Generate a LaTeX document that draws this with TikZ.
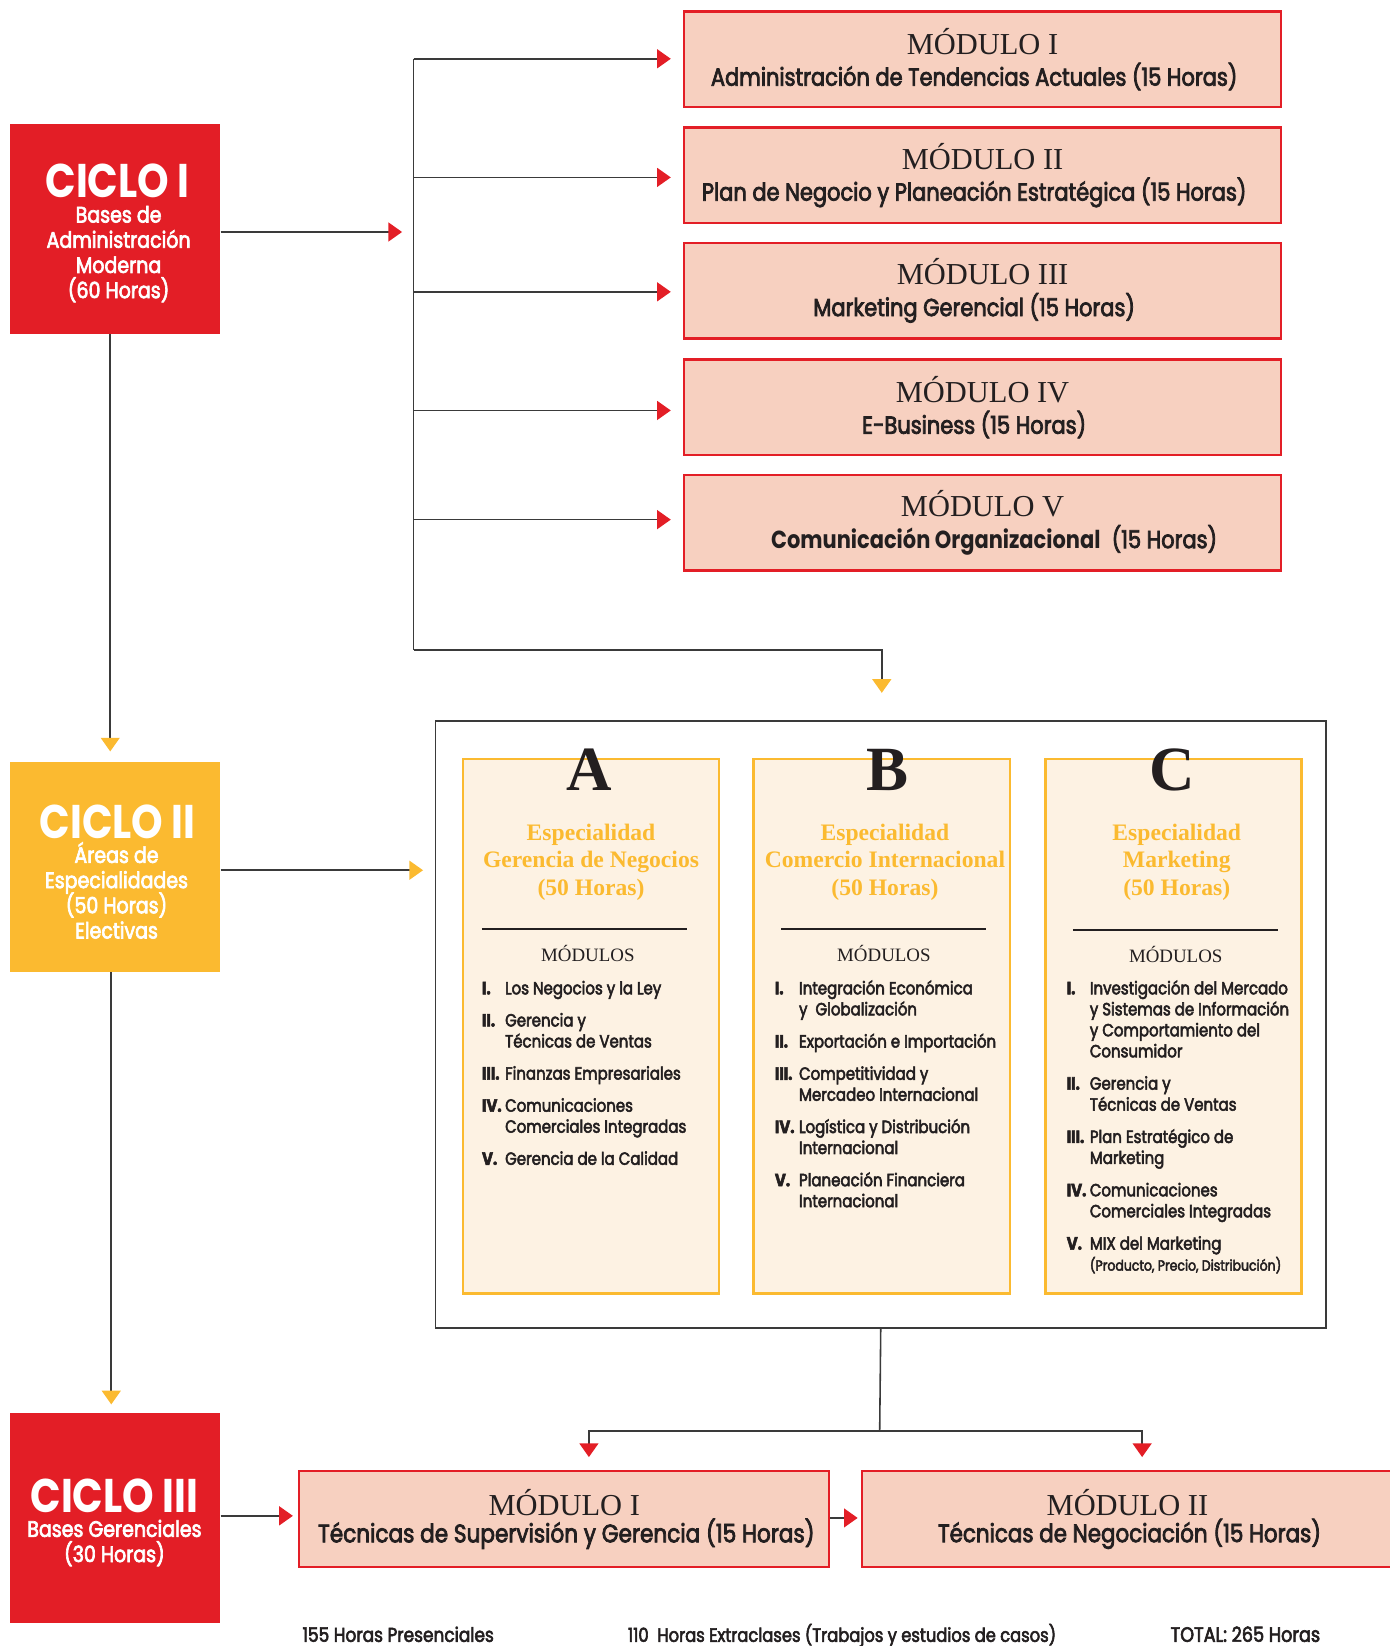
\documentclass[tikz,border=0pt]{standalone}
\usepackage{fontspec}
\setmainfont{Liberation Serif}
\newfontfamily\futm{Poppins}[FakeStretch=0.85,FakeBold=3]
\newfontfamily\fut{Poppins}[FakeStretch=0.85]
\newcommand\csm[1]{\smash{#1}}
\usetikzlibrary{arrows.meta}
\definecolor{cred}{HTML}{E31E26}
\definecolor{cpeach}{HTML}{F7D0C0}
\definecolor{cyel}{HTML}{FBBA30}
\definecolor{ccream}{HTML}{FDF2E3}
\definecolor{cline}{HTML}{3A3A3A}
\definecolor{ctext}{HTML}{231F20}
\begin{document}
\begin{tikzpicture}[x=1pt,y=-1pt,
  ln/.style={draw=cline,line width=1.5pt},
  rtip/.style={ln,-{Triangle[length=13pt,width=18pt,color=cred]}},
  ytip/.style={ln,-{Triangle[length=13pt,width=18pt,color=cyel]}},
  ciclo/.style={minimum width=200pt,minimum height=200pt,inner sep=0pt},
  ctitle/.style={anchor=base,inner sep=0pt,text=white,font=\fut\bfseries\fontsize{45}{40}\selectfont},
  csub/.style={anchor=north,inner sep=0pt,text=white,font=\futm\fontsize{21.3}{24}\selectfont},
  modbox/.style={draw=cred,line width=2pt,fill=cpeach,minimum height=91pt,align=center,inner sep=0pt,text=ctext},
  colbox/.style={draw=cyel,line width=2.5pt,fill=ccream,minimum width=244pt,minimum height=509pt,inner sep=0pt},
  letter/.style={anchor=base,inner sep=0pt,text=ctext,font=\bfseries\fontsize{60}{60}\selectfont},
  spec/.style={anchor=north,inner sep=0pt,text=cyel,align=center,font=\bfseries\fontsize{22.5}{26}\selectfont},
  mods/.style={anchor=base,inner sep=0pt,text=ctext,font=\fontsize{18}{20}\selectfont},
  items/.style={anchor=north west,inner sep=0pt,text=ctext,font=\futm\fontsize{16.8}{20}\selectfont},
  foot/.style={anchor=base west,inner sep=0pt,text=ctext,font=\futm\fontsize{19}{20}\selectfont}
]
\useasboundingbox (0,0) rectangle (1324,1568);

% ---------- CICLO boxes
\node[ciclo,fill=cred] (c1) at (110,218) {};
\node[ciclo,fill=cyel] (c2) at (110,826) {};
\node[ciclo,fill=cred] (c3) at (110,1446) {};
\node[ctitle] (c1t) at (112,188.5) {CICLO I};
\node[csub] (c1s) at (113,195) {\begin{tabular}{@{}c@{}}\csm{Bases de}\\ \csm{Administración}\\ \csm{Moderna}\\ \csm{(60 Horas)}\end{tabular}};
\node[ctitle] (c2t) at (112,799) {CICLO II};
\node[csub] (c2s) at (111,805) {\begin{tabular}{@{}c@{}}\csm{Áreas de}\\ \csm{Especialidades}\\ \csm{(50 Horas)}\\ \csm{Electivas}\end{tabular}};
\node[ctitle] (c3t) at (109,1441) {CICLO III};
\node[csub] (c3s) at (109,1447) {\begin{tabular}{@{}c@{}}\csm{Bases Gerenciales}\\ \csm{(30 Horas)}\end{tabular}};

% ---------- Modules of cycle I
\node[modbox,minimum width=568pt] (m1) at (936,56.5) {{\fontsize{29}{30}\selectfont MÓDULO I}\\[6.5pt]{\futm\fontsize{23.5}{24}\selectfont Administración de Tendencias Actuales (15 Horas)\hspace*{16pt}}};
\node[modbox,minimum width=568pt] (m2) at (936,167) {{\fontsize{29}{30}\selectfont MÓDULO II}\\[6.5pt]{\futm\fontsize{23.5}{24}\selectfont Plan de Negocio y Planeación Estratégica (15 Horas)\hspace*{16pt}}};
\node[modbox,minimum width=568pt] (m3) at (936,277) {{\fontsize{29}{30}\selectfont MÓDULO III}\\[6.5pt]{\futm\fontsize{23.5}{24}\selectfont Marketing Gerencial (15 Horas)\hspace*{16pt}}};
\node[modbox,minimum width=568pt] (m4) at (936,388) {{\fontsize{29}{30}\selectfont MÓDULO IV}\\[6.5pt]{\futm\fontsize{23.5}{24}\selectfont E-Business (15 Horas)\hspace*{16pt}}};
\node[modbox,minimum width=568pt] (m5) at (936,498) {{\fontsize{29}{30}\selectfont MÓDULO V}\\[6.5pt]{\futm\fontsize{23.5}{24}\selectfont \hspace*{22pt}{\fut\bfseries Comunicación Organizacional}\ \ (15 Horas)}};

% ---------- trunk and branches
\coordinate (t0) at (394,56);
\coordinate (t1) at (394,619);
\coordinate (c1in) at (383,221);
\coordinate (ptop) at (840,660);
\draw[rtip] (c1.east |- c1in) -- (c1in);
\draw[ln] (t0) -- (t1);
\draw[rtip,shorten >=12pt] (t0) -- (m1.west |- t0);
\draw[rtip,shorten >=12pt] (394,169) -- (m2.west |- 0,169);
\draw[rtip,shorten >=12pt] (394,278) -- (m3.west |- 0,278);
\draw[rtip,shorten >=12pt] (394,391) -- (m4.west |- 0,391);
\draw[rtip,shorten >=12pt] (394,495) -- (m5.west |- 0,495);
\draw[ytip] (t1) -| (ptop);

% ---------- specialities panel
\node[draw=cline,line width=1.5pt,fill=white,minimum width=848pt,minimum height=578pt,inner sep=0pt] (panel) at (839,976) {};
\node[colbox] (ca) at (563,977.5) {};
\node[colbox] (cb) at (840,977.5) {};
\node[colbox] (cc) at (1118,977.5) {};

\node[letter] (la) at (561,753) {A};
\node[letter] (lb) at (845,753) {B};
\node[letter] (lc) at (1117,753) {C};

\node[spec] (sa) at (563,785) {Especialidad\\ Gerencia de Negocios\\ (50\ Horas)};
\node[spec] (sb) at (843,785) {Especialidad\\ Comercio Internacional\\ (50\ Horas)};
\node[spec] (sc) at (1121,785) {Especialidad\\ Marketing\\ (50\ Horas)};

\draw[draw=ctext,line width=1.5pt] (459,885) -- (654,885);
\draw[draw=ctext,line width=1.5pt] (744,885) -- (939,885);
\draw[draw=ctext,line width=1.5pt] (1022,886) -- (1217,886);

\node[mods] (ma) at (560,916) {MÓDULOS};
\node[mods] (mb) at (842,916) {MÓDULOS};
\node[mods] (mc) at (1120,917) {MÓDULOS};

\node[items] (ia) at (459,933) {\begin{tabular}{@{}p{22pt}@{}l@{}}
\bfseries I. & Los Negocios y la Ley\\[10.6pt]
\bfseries II. & Gerencia y\\
 & Técnicas de Ventas\\[10.6pt]
\bfseries III. & Finanzas Empresariales\\[10.6pt]
\bfseries IV. & Comunicaciones\\
 & Comerciales Integradas\\[10.6pt]
\bfseries V. & Gerencia de la Calidad
\end{tabular}};

\node[items] (ib) at (738,933) {\begin{tabular}{@{}p{23pt}@{}l@{}}
\bfseries I. & Integración Económica\\
 & y\ \ Globalización\\[10.7pt]
\bfseries II. & Exportación e Importación\\[10.7pt]
\bfseries III. & Competitividad y\\
 & Mercadeo Internacional\\[10.7pt]
\bfseries IV. & Logística y Distribución\\
 & Internacional\\[10.7pt]
\bfseries V. & Planeación Financiera\\
 & Internacional
\end{tabular}};

\node[items] (ic) at (1016,933) {\begin{tabular}{@{}p{22pt}@{}l@{}}
\bfseries I. & Investigación del Mercado\\
 & y Sistemas de Información\\
 & y Comportamiento del\\
 & Consumidor\\[10.8pt]
\bfseries II. & Gerencia y\\
 & Técnicas de Ventas\\[10.8pt]
\bfseries III. & Plan Estratégico de\\
 & Marketing\\[10.8pt]
\bfseries IV. & Comunicaciones\\
 & Comerciales Integradas\\[10.8pt]
\bfseries V. & MIX del Marketing\\
 & {\fontsize{14}{20}\selectfont (Producto, Precio, Distribución)}
\end{tabular}};

% ---------- connectors around panel
\coordinate (c2in) at (403,829);
\draw[ytip] (c2.east |- c2in) -- (c2in);
\draw[ytip,shorten >=10pt] ([xshift=-5pt]c1.south) -- ([xshift=-5pt]c2.north);
\draw[ytip,shorten >=8pt] ([xshift=-4pt]c2.south) -- ([xshift=-4pt]c3.north);

% ---------- Modules of cycle III
\node[modbox,minimum width=505pt] (b1) at (537.5,1447) {{\fontsize{29}{30}\selectfont MÓDULO I}\\[2pt]{\futm\fontsize{24.2}{24}\selectfont \hspace*{4pt}Técnicas de Supervisión y Gerencia (15\ Horas)}};
\node[modbox,minimum width=506pt] (b2) at (1074,1447) {{\fontsize{29}{30}\selectfont MÓDULO II}\\[2pt]{\futm\fontsize{24}{24}\selectfont \hspace*{4pt}Técnicas de Negociación (15\ Horas)}};

\coordinate (j) at (838,1363);
\coordinate (ja) at (561,1388);
\coordinate (jb) at (1088,1388);
\draw[ln] (panel.south) -- (j);
\draw[rtip] (j) -| (ja);
\draw[rtip] (j) -| (jb);
\draw[rtip,shorten >=5pt] (c3.east |- 0,1444) -- (b1.west |- 0,1444);
\draw[rtip,shorten >=3pt] (b1.east |- 0,1446) -- (b2.west |- 0,1446);

% ---------- footer
\node[foot] (f1) at (288,1564) {155 Horas Presenciales};
\node[foot,font=\futm\fontsize{18.3}{20}\selectfont] (f2) at (598,1564) {110\ \ Horas Extraclases (Trabajos y estudios de casos)};
\node[foot,font=\futm\fontsize{19.8}{20}\selectfont] (f3) at (1115,1564) {TOTAL: 265 Horas};
\end{tikzpicture}
\end{document}
